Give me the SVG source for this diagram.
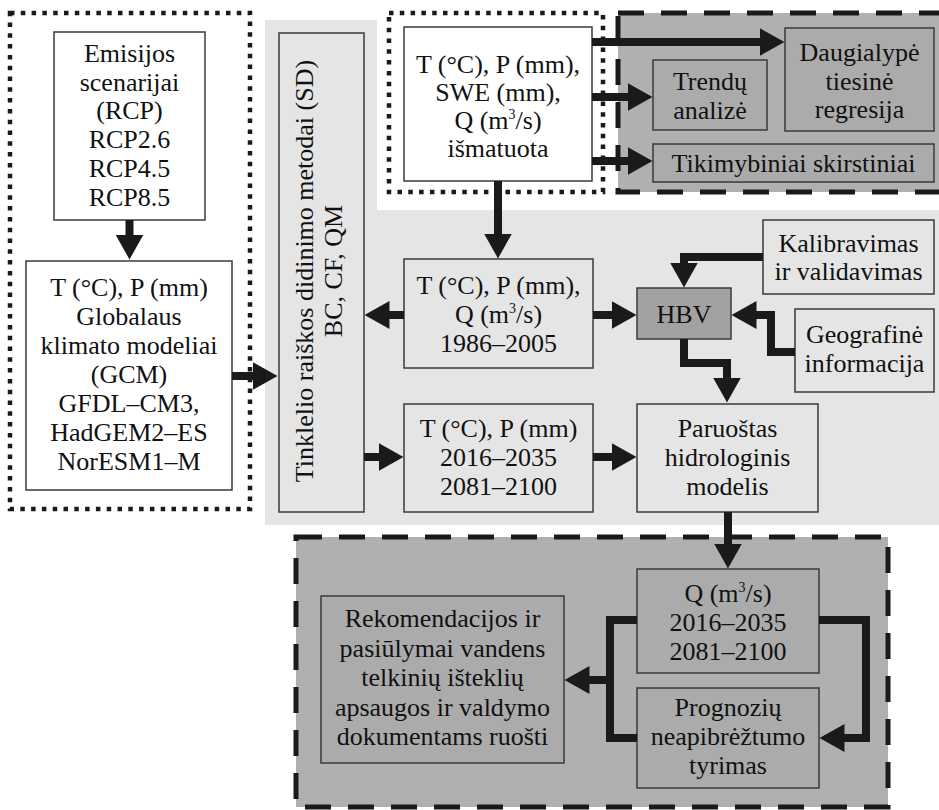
<svg xmlns="http://www.w3.org/2000/svg" width="939" height="810" viewBox="0 0 939 810" font-family="Liberation Serif, serif">
<defs>
<style>
text{font-family:'Liberation Serif',serif;font-size:26px;fill:#111111;text-anchor:middle}
.sup{font-size:14px}
.box{stroke:#3a3a3a;stroke-width:1.5}
.w{fill:#ffffff}
.lg{fill:#e5e5e5}
.dg{fill:#ababab}
.hbv{fill:#a2a2a2}
.dot{fill:none;stroke:#1a1a1a;stroke-width:4.5;stroke-dasharray:4.5 6.3}
.dash{fill:#b0b0b0;stroke:#1a1a1a;stroke-width:5;stroke-dasharray:26 17}
.c{fill:none;stroke:#1a1a1a;stroke-width:8;stroke-linejoin:miter}
.a{marker-end:url(#ah)}
</style>
<marker id="ah" markerUnits="userSpaceOnUse" markerWidth="26" markerHeight="28" viewBox="0 0 26 28" refX="0.5" refY="14" orient="auto">
<path d="M0,0 L25,14 L0,28 Z" fill="#1a1a1a"/>
</marker>
</defs>
<rect width="939" height="810" fill="#ffffff"/>
<g id="background">
<path d="M265,20 H377 V210 H939 V525 H265 Z" fill="#e5e5e5"/>
<rect x="618" y="13" width="330" height="179" class="dash"/>
<rect x="296" y="537" width="592" height="270" class="dash"/>
<rect x="10" y="13" width="240" height="496" class="dot"/>
<rect x="389" y="13" width="214" height="179" class="dot"/>
</g>
<g id="nodes">
<g id="n-emisijos">
<rect x="54" y="32" width="151" height="188" class="box w"/>
<text x="129.5" y="62">Emisijos</text>
<text x="129.5" y="90.7">scenarijai</text>
<text x="129.5" y="119.4">(RCP)</text>
<text x="129.5" y="148.1">RCP2.6</text>
<text x="129.5" y="176.8">RCP4.5</text>
<text x="129.5" y="205.5">RCP8.5</text>
</g>
<g id="n-gcm">
<rect x="26" y="261" width="206" height="229" class="box w"/>
<text x="129" y="295.5">T (°C), P (mm)</text>
<text x="129" y="324.6">Globalaus</text>
<text x="129" y="353.7">klimato modeliai</text>
<text x="129" y="382.8">(GCM)</text>
<text x="129" y="411.9">GFDL–CM3,</text>
<text x="129" y="441">HadGEM2–ES</text>
<text x="129" y="470.1">NorESM1–M</text>
</g>
<g id="n-sd">
<rect x="279" y="33" width="85" height="479" class="box lg"/>
<text transform="translate(313,271) rotate(-90)">Tinklelio raiškos didinimo metodai (SD)</text>
<text transform="translate(342,271) rotate(-90)">BC, CF, QM</text>
</g>
<g id="n-measured">
<rect x="404" y="27" width="188" height="154" class="box w"/>
<text x="498" y="73">T (°C), P (mm),</text>
<text x="498" y="101">SWE (mm),</text>
<text x="498" y="129">Q (m<tspan class="sup" dy="-10">3</tspan><tspan dy="10">/s)</tspan></text>
<text x="498" y="157">išmatuota</text>
</g>
<g id="n-trendu">
<rect x="653" y="60" width="114" height="70" class="box dg"/>
<text x="710" y="90">Trendų</text>
<text x="710" y="118.5">analizė</text>
</g>
<g id="n-daugialype">
<rect x="785" y="28" width="149" height="103" class="box dg"/>
<text x="859.5" y="61">Daugialypė</text>
<text x="859.5" y="89.5">tiesinė</text>
<text x="859.5" y="118">regresija</text>
</g>
<g id="n-tikimybiniai">
<rect x="653" y="144" width="281" height="38" class="box dg"/>
<text x="793.5" y="172">Tikimybiniai skirstiniai</text>
</g>
<g id="n-kalibravimas">
<rect x="763" y="220" width="171" height="74" class="box lg"/>
<text x="848.5" y="251.7">Kalibravimas</text>
<text x="848.5" y="280.4">ir validavimas</text>
</g>
<g id="n-geografine">
<rect x="795" y="309" width="139" height="83" class="box lg"/>
<text x="864.5" y="343">Geografinė</text>
<text x="864.5" y="372">informacija</text>
</g>
<g id="n-tpq">
<rect x="404" y="259" width="189" height="109" class="box lg"/>
<text x="498.5" y="294">T (°C), P (mm),</text>
<text x="498.5" y="323">Q (m<tspan class="sup" dy="-10">3</tspan><tspan dy="10">/s)</tspan></text>
<text x="498.5" y="351.5">1986–2005</text>
</g>
<g id="n-hbv">
<rect x="637" y="288" width="94" height="51" class="box hbv"/>
<text x="684" y="322.5">HBV</text>
</g>
<g id="n-tp2016">
<rect x="404" y="404" width="189" height="108" class="box lg"/>
<text x="498.5" y="437">T (°C), P (mm)</text>
<text x="498.5" y="466">2016–2035</text>
<text x="498.5" y="495">2081–2100</text>
</g>
<g id="n-paruostas">
<rect x="637" y="404" width="181" height="108" class="box lg"/>
<text x="727.5" y="437">Paruoštas</text>
<text x="727.5" y="466">hidrologinis</text>
<text x="727.5" y="495">modelis</text>
</g>
<g id="n-q">
<rect x="637" y="569" width="182" height="104" class="box dg"/>
<text x="728" y="601.5">Q (m<tspan class="sup" dy="-10">3</tspan><tspan dy="10">/s)</tspan></text>
<text x="728" y="630.5">2016–2035</text>
<text x="728" y="659.5">2081–2100</text>
</g>
<g id="n-prognoziu">
<rect x="637" y="688" width="182" height="100" class="box dg"/>
<text x="728" y="715.5">Prognozių</text>
<text x="728" y="744.5">neapibrėžtumo</text>
<text x="728" y="773.5">tyrimas</text>
</g>
<g id="n-rekomendacijos">
<rect x="321" y="596" width="243" height="167" class="box dg"/>
<text x="442.5" y="627">Rekomendacijos ir</text>
<text x="442.5" y="656.5">pasiūlymai vandens</text>
<text x="442.5" y="686">telkinių išteklių</text>
<text x="442.5" y="715.5">apsaugos ir valdymo</text>
<text x="442.5" y="745">dokumentams ruošti</text>
</g>
</g>
<g id="connectors">
<path class="c a" d="M129.5,220 V235"/>
<path class="c a" d="M232,376 H253"/>
<path class="c a" d="M498,181 V234"/>
<path class="c a" d="M592,42 H760"/>
<path class="c a" d="M592,97 H628"/>
<path class="c a" d="M592,161 H628"/>
<path class="c a" d="M404,315 H389"/>
<path class="c a" d="M593,315 H612"/>
<path class="c a" d="M763,257 H684 V263"/>
<path class="c a" d="M795,352 H771 V315 H756"/>
<path class="c a" d="M684,339 V363 H727 V378"/>
<path class="c a" d="M364,457 H379"/>
<path class="c a" d="M593,457 H612"/>
<path class="c a" d="M728,512 V544"/>
<path class="c" d="M637,620 H610 V738 H637"/>
<path class="c a" d="M610,680 H589"/>
<path class="c a" d="M819,620 H866 V738 H844"/>
</g>
</svg>
